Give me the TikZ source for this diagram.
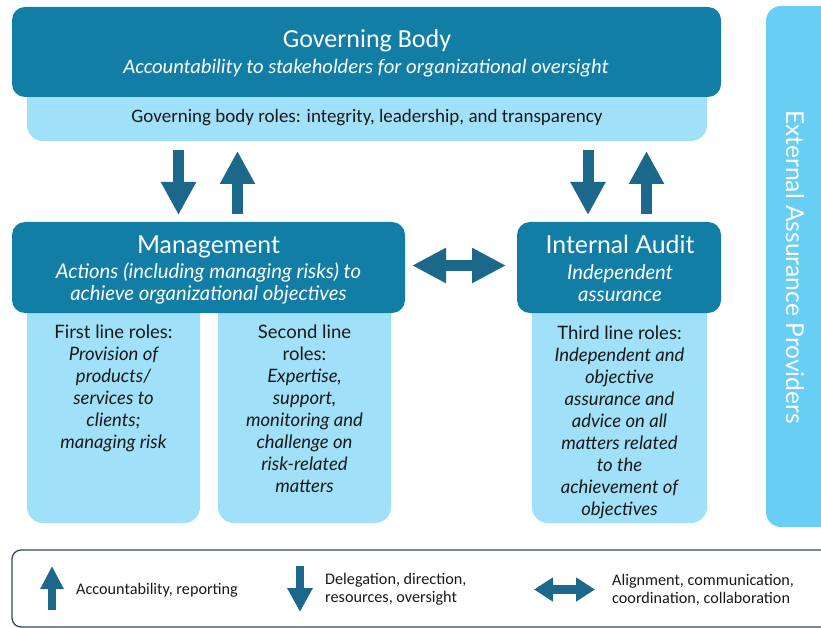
\documentclass[tikz,border=0pt]{standalone}
\usepackage{fontspec}
\setmainfont{Lato}
\newfontfamily\narrowf{Carlito}
\usetikzlibrary{arrows.meta}
\definecolor{darkbox}{RGB}{18,126,166}
\definecolor{arrowc}{RGB}{27,104,138}
\definecolor{lightbox}{RGB}{160,224,248}
\definecolor{extbox}{RGB}{104,206,243}
\definecolor{legc}{RGB}{52,72,84}
\definecolor{txt}{RGB}{25,25,25}
\begin{document}
\begin{tikzpicture}[x=1pt,y=-1pt,
  dbox/.style={rectangle, fill=darkbox, rounded corners=13pt, inner sep=0pt, outer sep=0pt},
  lbox/.style={rectangle, fill=lightbox, rounded corners=16pt, inner sep=0pt, outer sep=0pt},
  bigarrow/.style={draw=arrowc, line width=11pt, -{Triangle[width=33pt,length=33pt]}},
  bigdouble/.style={draw=arrowc, line width=11pt, {Triangle[width=33pt,length=34pt]}-{Triangle[width=33pt,length=34pt]}},
  title/.style={anchor=base, text=white, inner sep=0pt, font=\fontsize{24.8}{28}\selectfont},
  sub/.style={anchor=base, text=white, inner sep=0pt, align=center, font=\fontsize{20.3}{22}\selectfont\itshape},
  roles/.style={anchor=base, text=txt, inner sep=0pt, align=center, font=\fontsize{18.5}{22}\selectfont},
  legtext/.style={anchor=west, text=txt, inner sep=0pt, align=left, font=\narrowf\fontsize{16.2}{18}\selectfont}
]
\useasboundingbox (0,0) rectangle (821,628);
\clip (0,0) rectangle (821,628);

% External assurance providers
\node[rectangle, fill=extbox, rounded corners=15pt, inner sep=0pt, minimum width=90pt, minimum height=521pt] (ext) at (811,266.5) {};
\node[rotate=-90, text=white, inner sep=0pt, font=\fontsize{24.6}{28}\selectfont] (extt) at (795,267) {External Assurance Providers};

% light boxes
\node[lbox, minimum width=680pt, minimum height=81pt] (gbl) at (367,100.5) {};
\node[lbox, minimum width=173pt, minimum height=243pt] (first) at (113.5,401.5) {};
\node[lbox, minimum width=173pt, minimum height=243pt] (second) at (304.5,401.5) {};
\node[lbox, minimum width=175pt, minimum height=243pt] (third) at (619.5,401.5) {};

% dark boxes
\node[dbox, minimum width=709pt, minimum height=90pt] (gb) at (366.5,52) {};
\node[dbox, minimum width=393pt, minimum height=91pt] (mg) at (208.5,267.5) {};
\node[dbox, minimum width=204pt, minimum height=91pt] (ia) at (619,267.5) {};

% texts
\node[title, font=\narrowf\fontsize{26}{30}\selectfont] (gbt) at (367,48) {Governing Body};
\node[sub, font=\narrowf\itshape\fontsize{20.6}{24}\selectfont] (gbs) at (366,74) {Accountability to stakeholders for organizational oversight};
\node[anchor=base, inner sep=0pt, text=txt, font=\narrowf\fontsize{19}{22}\selectfont] (gbr) at (367,123) {Governing body roles: integrity, leadership, and transparency};

\node[title] (mgt) at (208.5,253) {Management};
\node[sub] (mgs) at (208.5,300) {Actions (including managing risks) to\\achieve organizational objectives};
\node[title] (iat) at (620,253) {Internal Audit};
\node[sub] (ias) at (620,301) {Independent\\assurance};

\node[roles] (firstt) at (113.5,448) {First line roles:\\\itshape Provision of\\\itshape products/\\\itshape services to\\\itshape clients;\\\itshape managing risk};
\node[roles] (secondt) at (304.5,492) {Second line\\roles:\\\itshape Expertise,\\\itshape support,\\\itshape monitoring and\\\itshape challenge on\\\itshape risk-related\\\itshape matters};
\node[roles] (thirdt) at (619.5,515) {Third line roles:\\\itshape Independent and\\\itshape objective\\\itshape assurance and\\\itshape advice on all\\\itshape matters related\\\itshape to the\\\itshape achievement of\\\itshape objectives};

% arrows between levels
\coordinate (a1s) at (178.5,150); \coordinate (a1e) at (178.5,215);
\coordinate (a2s) at (237.5,214); \coordinate (a2e) at (237.5,151);
\coordinate (a3s) at (588,150); \coordinate (a3e) at (588,215);
\coordinate (a4s) at (646.5,214); \coordinate (a4e) at (646.5,151);
\draw[bigarrow] (a1s) -- (a1e);
\draw[bigarrow] (a2s) -- (a2e);
\draw[bigarrow] (a3s) -- (a3e);
\draw[bigarrow] (a4s) -- (a4e);
\coordinate (h1) at (412,265.5); \coordinate (h2) at (506,265.5);
\draw[bigdouble] (h1) -- (h2);

% legend
\node[rectangle, draw=legc, line width=1.3pt, rounded corners=9pt, inner sep=0pt, minimum width=850pt, minimum height=77pt] (leg) at (437,588.5) {};
\coordinate (l1s) at (52,610); \coordinate (l1e) at (52,566);
\draw[draw=arrowc, line width=8pt, -{Triangle[width=22pt,length=23pt]}] (l1s) -- (l1e);
\node[legtext] (l1t) at (76,590) {Accountability, reporting};
\coordinate (l2s) at (300,566); \coordinate (l2e) at (300,612);
\draw[draw=arrowc, line width=8pt, -{Triangle[width=24pt,length=24pt]}] (l2s) -- (l2e);
\node[legtext] (l2t) at (325,589.5) {Delegation, direction,\\resources, oversight};
\coordinate (l3s) at (534,589.5); \coordinate (l3e) at (595,589.5);
\draw[draw=arrowc, line width=9pt, {Triangle[width=23pt,length=19pt]}-{Triangle[width=23pt,length=19pt]}] (l3s) -- (l3e);
\node[legtext] (l3t) at (612,589.5) {Alignment, communication,\\coordination, collaboration};
\end{tikzpicture}
\end{document}
